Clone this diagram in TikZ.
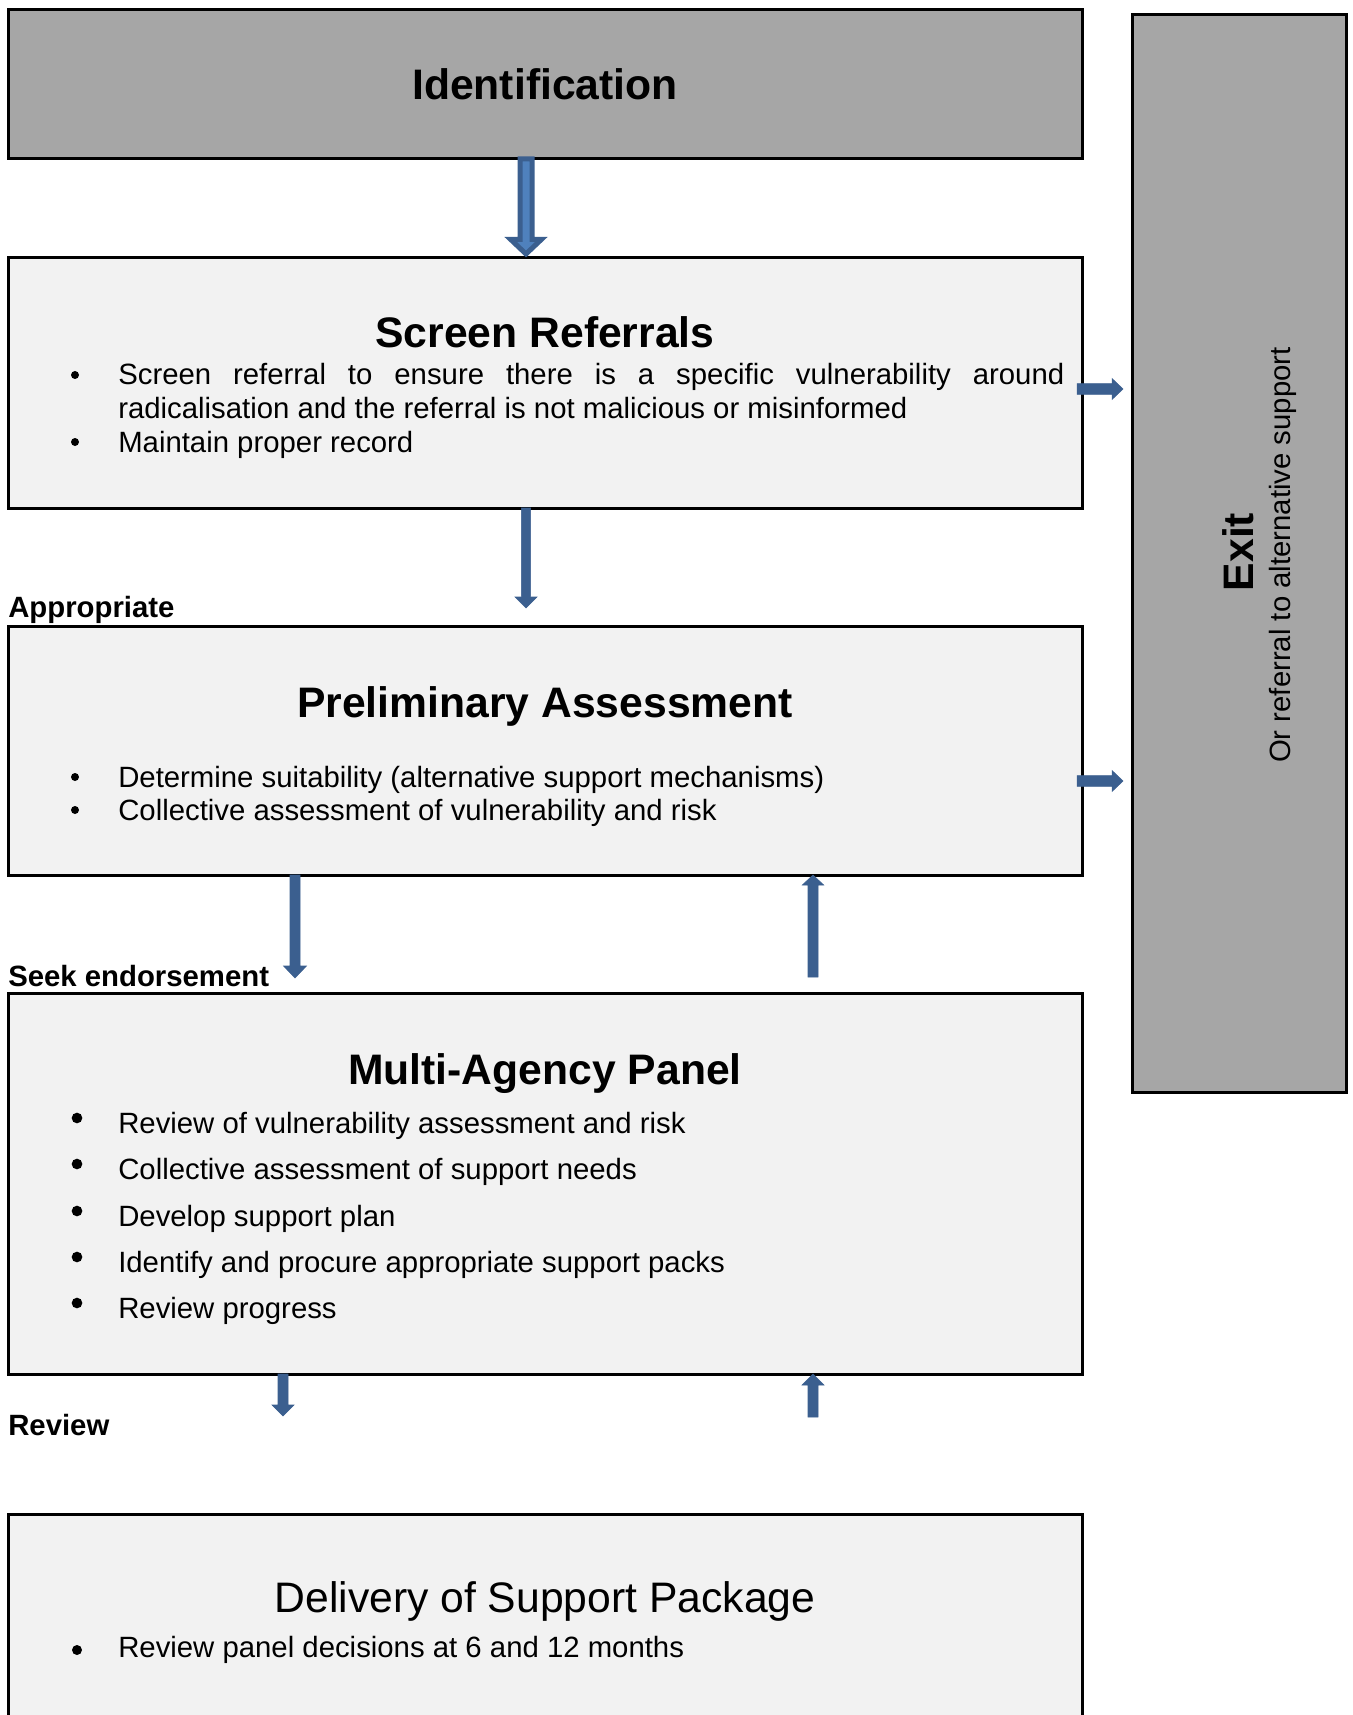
\documentclass[tikz,border=0pt]{standalone}
\usepackage{fontspec}
\setmainfont{Liberation Sans}
\usetikzlibrary{calc,fit}
\definecolor{boxgray}{HTML}{A6A6A6}
\definecolor{boxlight}{HTML}{F2F2F2}
\definecolor{arrdark}{HTML}{3B5F8F}
\definecolor{arrlight}{HTML}{4F81BD}
% #1 style, #2 start, #3 tip, #4 half shaft, #5 half head, #6 head length
\newcommand\bkarrow[6]{%
  \path ($(#3)!#6!(#2)$) coordinate (bk-h);
  \filldraw[#1] ($(#2)!#4!90:(#3)$) -- ($(bk-h)!#4!90:(#3)$) -- ($(bk-h)!#5!90:(#3)$) -- (#3)
    -- ($(bk-h)!#5!-90:(#3)$) -- ($(bk-h)!#4!-90:(#3)$) -- ($(#2)!#4!-90:(#3)$) -- cycle;}
\begin{document}
\begin{tikzpicture}[x=0.75pt,y=-0.75pt,
  box/.style={draw=black, line width=2.25pt, inner sep=0pt, outer sep=0pt},
  graybox/.style={box, fill=boxgray},
  lightbox/.style={box, fill=boxlight},
  head/.style={font=\fontsize{32}{38}\selectfont\bfseries, inner sep=0pt, anchor=base},
  body/.style={font=\fontsize{22}{26}\selectfont, inner sep=0pt, anchor=base west},
  lab/.style={font=\fontsize{22}{26}\selectfont\bfseries, inner sep=0pt, anchor=base west},
  sdot/.style={circle, fill=black, inner sep=0pt, minimum size=6pt},
  bdot/.style={circle, fill=black, inner sep=0pt, minimum size=8pt},
  darr/.style={fill=arrdark, draw=arrdark, line width=0.4pt},
  bigarr/.style={fill=arrlight, draw=arrdark, line width=3.75pt, line join=miter}]
\useasboundingbox (0,0) rectangle (1352,1715);
\clip (0,0) rectangle (1352,1715);

% boxes
\node[graybox, fit={(8,10) (1082,159)}] (ident) {};
\node[lightbox, fit={(8,258) (1082,508)}] (scr) {};
\node[lightbox, fit={(8,626) (1082,875)}] (prelim) {};
\node[lightbox, fit={(8,993) (1082,1374)}] (map) {};
\node[lightbox, fit={(8,1514) (1082,1790)}] (deliv) {};
\node[graybox, fit={(1132,15) (1346,1092)}] (exit) {};

% headings
\node[head] (identT) at (545,100) {Identification};
\node[head] (scrT) at (545,348) {Screen Referrals};
\node[head] (preT) at (545,717) {Preliminary Assessment};
\node[head] (mapT) at (545,1084) {Multi-Agency Panel};
\node[head, font=\fontsize{32}{38}\selectfont] (delT) at (545,1612) {Delivery of Support Package};

% screen referrals
\node[sdot] (s1) at (75,375) {};
\node[body] (s1a) at (118,385) {\makebox[709.5pt][s]{Screen referral to ensure there is a specific vulnerability around}};
\node[body] (s1b) at (118,418) {radicalisation and the referral is not malicious or misinformed};
\node[sdot] (s2) at (75,442) {};
\node[body] (s2a) at (118,452) {Maintain proper record};

% preliminary assessment
\node[sdot] (p1) at (75,777) {};
\node[body] (p1a) at (118,787) {Determine suitability (alternative support mechanisms)};
\node[sdot] (p2) at (75,810) {};
\node[body] (p2a) at (118,820) {Collective assessment of vulnerability and risk};

% multi-agency panel
\node[bdot] (m1) at (77,1118) {};
\node[body] (m1a) at (118,1133) {Review of vulnerability assessment and risk};
\node[bdot] (m2) at (77,1164) {};
\node[body] (m2a) at (118,1179) {Collective assessment of support needs};
\node[bdot] (m3) at (77,1211) {};
\node[body] (m3a) at (118,1226) {Develop support plan};
\node[bdot] (m4) at (77,1257) {};
\node[body] (m4a) at (118,1272) {Identify and procure appropriate support packs};
\node[bdot] (m5) at (77,1303) {};
\node[body] (m5a) at (118,1318) {Review progress};

% delivery
\node[circle, fill=black, inner sep=0pt, minimum size=7.5pt] (d1) at (77,1650) {};
\node[body] (d1a) at (118,1657) {Review panel decisions at 6 and 12 months};

% labels
\node[lab] (lapp) at (8,617) {Appropriate};
\node[lab] (lseek) at (8,986) {Seek endorsement};
\node[lab] (lrev) at (8,1435) {Review};

% exit texts
\node[font=\fontsize{32}{38}\selectfont\bfseries, rotate=90, anchor=base, inner sep=0pt] (exitT) at (1253,552) {Exit};
\node[font=\fontsize{22}{26}\selectfont, rotate=90, anchor=base, inner sep=0pt] (exitS) at (1290,555) {Or referral to alternative support};

% arrow columns and free ends
\coordinate (colA) at (526,0);
\coordinate (colE) at (295,0);
\coordinate (colF) at (813,0);
\coordinate (colG) at (283,0);
\coordinate (aS) at (ident.south -| colA);
\coordinate (aE) at ($(scr.north -| colA)+(0,-4)$);
\coordinate (bS) at (scr.south -| colA);
\coordinate (bE) at (526,608);
\coordinate (cS) at (1077,389);
\coordinate (cE) at (1123,389);
\coordinate (dS) at (1077,781);
\coordinate (dE) at (1123,781);
\coordinate (eS) at (prelim.south -| colE);
\coordinate (eE) at (295,978);
\coordinate (fS) at (813,977);
\coordinate (fE) at (prelim.south -| colF);
\coordinate (gS) at (map.south -| colG);
\coordinate (gE) at (283,1416);
\coordinate (hS) at (813,1417);
\coordinate (hE) at (map.south -| colF);

% arrows
\bkarrow{bigarr}{aS}{aE}{4.5pt}{11.6pt}{11pt}
\bkarrow{darr}{bS}{bE}{3.5pt}{8.25pt}{8.25pt}
\bkarrow{darr}{cS}{cE}{4.1pt}{7.9pt}{8.25pt}
\bkarrow{darr}{dS}{dE}{4.1pt}{7.9pt}{8.25pt}
\bkarrow{darr}{eS}{eE}{3.75pt}{8.6pt}{9pt}
\bkarrow{darr}{fS}{fE}{3.75pt}{8pt}{7.5pt}
\bkarrow{darr}{gS}{gE}{3.75pt}{8.25pt}{8.25pt}
\bkarrow{darr}{hS}{hE}{3.75pt}{8.25pt}{8.25pt}
\end{tikzpicture}
\end{document}
